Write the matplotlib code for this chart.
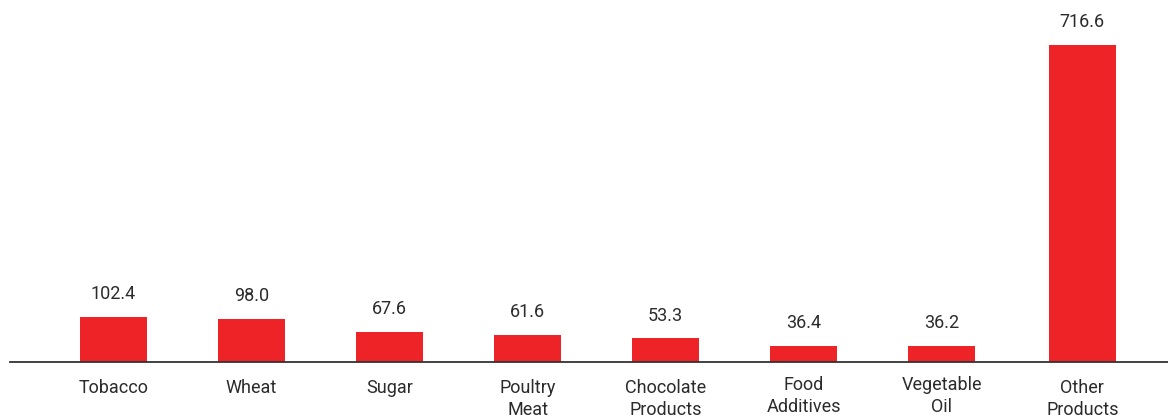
import matplotlib.pyplot as plt
import numpy as np

categories = ['Tobacco', 'Wheat', 'Sugar', 'Poultry\nMeat', 'Chocolate\nProducts',
              'Food\nAdditives', 'Vegetable\nOil', 'Other\nProducts']
values = [102.4, 98.0, 67.6, 61.6, 53.3, 36.4, 36.2, 716.6]
# the two middle-right labels sit a touch higher in the original
label_shift = [0, 0, 0, 0, 0, 3, 3, 0]

plt.rcParams['font.family'] = ['Roboto', 'DejaVu Sans']

fig = plt.figure(figsize=(11.68, 4.18), dpi=100)
ax = fig.add_axes([10 / 1168, 56 / 418, 1 - 10 / 1168, 362 / 418])

x = np.arange(len(categories)) * 1.0
x[-1] += 0.02
ax.bar(x, values, width=0.485, color='#ED2327', zorder=2)

for xi, v in zip(x, values):
    ax.annotate(f'{v:.1f}', (xi, v), xytext=(0, 10), textcoords='offset points',
                ha='center', va='bottom', fontsize=13, color='#2b2b2b')

for xi, lab, s in zip(x, categories, label_shift):
    ax.annotate(lab, (xi, 0), xytext=(0, -12 + s * 0.72), textcoords='offset points',
                ha='center', va='top', fontsize=13, color='#2b2b2b',
                linespacing=1.28, annotation_clip=False)

ax.set_xlim(-0.75, 7.64)
ax.set_ylim(0, 818)
for side in ['top', 'right', 'left']:
    ax.spines[side].set_visible(False)
ax.spines['bottom'].set_color('#333333')
ax.spines['bottom'].set_linewidth(1.3)
ax.set_xticks([])
ax.set_yticks([])

plt.savefig('out.png', dpi=100)
